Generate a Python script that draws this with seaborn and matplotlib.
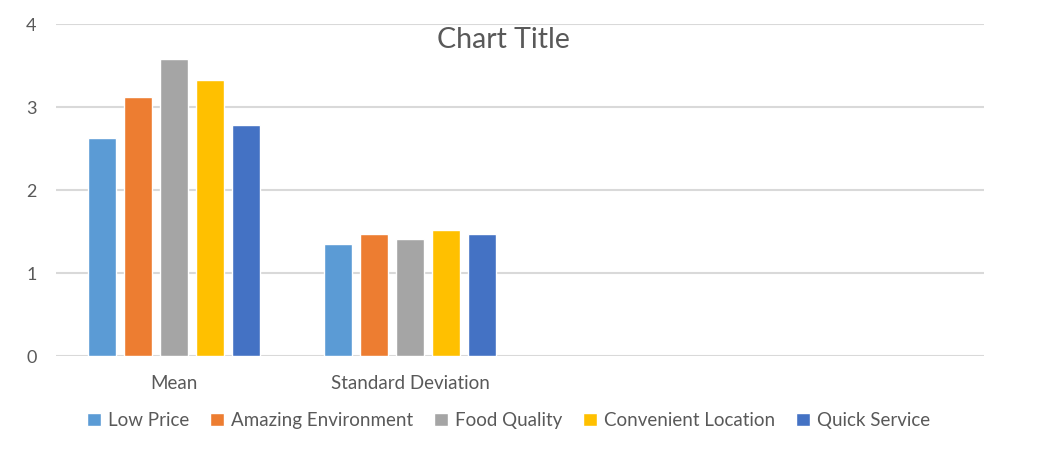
import pandas as pd
import matplotlib
matplotlib.use("Agg")
import matplotlib.pyplot as plt
import seaborn as sns

# values
stats = ["Mean", "Standard Deviation"]
factors = ["Low Price", "Amazing Environment", "Food Quality",
           "Convenient Location", "Quick Service"]
mean_vals = [2.63, 3.12, 3.58, 3.33, 2.79]
sd_vals = [1.35, 1.47, 1.41, 1.52, 1.47]
colors = ["#5B9BD5", "#ED7D31", "#A5A5A5", "#FFC000", "#4472C4"]

rows = []
for f, m, s in zip(factors, mean_vals, sd_vals):
    rows.append({"stat": "Mean", "factor": f, "value": m})
    rows.append({"stat": "Standard Deviation", "factor": f, "value": s})
df = pd.DataFrame(rows)

sns.set_style("white")
plt.rcParams["font.family"] = ["Lato", "DejaVu Sans"]
text_color = "#595959"

fig = plt.figure(figsize=(10.38, 4.57), dpi=100)
ax = fig.add_axes([0.054, 0.221, 0.894, 0.726])

sns.barplot(data=df, x="stat", y="value", hue="factor", order=stats,
            hue_order=factors, palette=colors, width=0.7625, gap=0.22,
            saturation=1, errorbar=None, ax=ax)

# Excel leaves room for two empty categories on the right
ax.set_xlim(-0.5, 3.43)
ax.set_ylim(0, 4)
ax.set_yticks([0, 1, 2, 3, 4])
ax.set_xlabel("")
ax.set_ylabel("")
ax.yaxis.grid(True, color="#D9D9D9", linewidth=1.5)
ax.set_axisbelow(True)
for sp in ax.spines.values():
    sp.set_visible(False)
ax.tick_params(axis="both", length=0, labelcolor=text_color)
ax.tick_params(axis="y", pad=14, labelsize=13)
ax.tick_params(axis="x", pad=14, labelsize=13.5)

ax.get_legend().remove()
handles, labels = ax.get_legend_handles_labels()
fig.legend(handles, labels, loc="center", bbox_to_anchor=(0.49, 0.08),
           ncol=5, frameon=False, fontsize=13.5, labelcolor=text_color,
           handlelength=0.75, handleheight=0.75, handletextpad=0.35,
           columnspacing=1.13)

fig.text(0.485, 0.912, "Chart Title", ha="center", va="center",
         fontsize=20.5, color=text_color)

fig.savefig("out.png", dpi=100)
